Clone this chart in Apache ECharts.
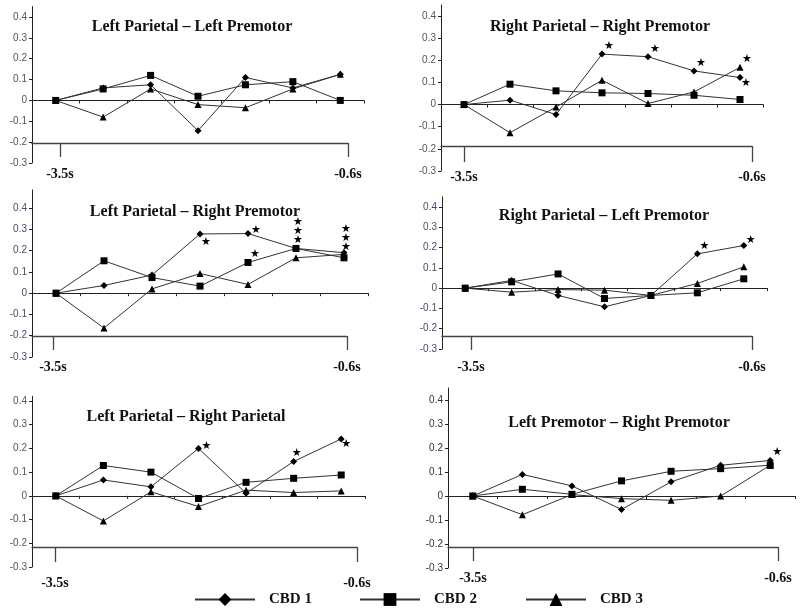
<!DOCTYPE html>
<html><head><meta charset="utf-8">
<script src="https://cdn.jsdelivr.net/npm/echarts@6/dist/echarts.min.js"></script>
<style>html,body{margin:0;padding:0;background:#fff}#c{width:800px;height:610px}</style>
</head><body><div id="c"></div>
<script>
// ---------------- DATA ----------------
const categories = ['t1','t2','t3','t4','t5','t6','t7'];
const seriesNames = ['CBD 1','CBD 2','CBD 3'];
const yTickValues = [-0.3,-0.2,-0.1,0,0.1,0.2,0.3,0.4];
const timeTickValues = [-3.5,-0.6];
const panelTitles = [
  'Left Parietal \u2013 Left Premotor',
  'Right Parietal \u2013 Right Premotor',
  'Left Parietal \u2013 Right Premotor',
  'Right Parietal \u2013 Left Premotor',
  'Left Parietal \u2013 Right Parietal',
  'Left Premotor \u2013 Right Premotor'
];

const lpLpmCbd1 = [0, 0.06, 0.075, -0.145, 0.11, 0.06, 0.125];
const lpLpmCbd2 = [0, 0.055, 0.12, 0.02, 0.075, 0.09, 0];
const lpLpmCbd3 = [0, -0.08, 0.055, -0.02, -0.035, 0.055, 0.125];

const rpRpmCbd1 = [0, 0.02, -0.045, 0.228, 0.216, 0.152, 0.122];
const rpRpmCbd2 = [0, 0.092, 0.062, 0.053, 0.05, 0.042, 0.023];
const rpRpmCbd3 = [0, -0.127, -0.011, 0.11, 0.005, 0.057, 0.168];

const lpRpmCbd1 = [0, 0.036, 0.085, 0.278, 0.28, 0.21, 0.19];
const lpRpmCbd2 = [0, 0.152, 0.073, 0.033, 0.144, 0.21, 0.166];
const lpRpmCbd3 = [0, -0.164, 0.02, 0.092, 0.041, 0.166, 0.182];

const rpLpmCbd1 = [0, 0.038, -0.036, -0.092, -0.036, 0.169, 0.21];
const rpLpmCbd2 = [0, 0.031, 0.07, -0.051, -0.036, -0.023, 0.046];
const rpLpmCbd3 = [0, -0.02, -0.007, -0.01, -0.036, 0.023, 0.105];

const lpRpCbd1 = [0, 0.067, 0.038, 0.2, 0.011, 0.145, 0.24];
const lpRpCbd2 = [0, 0.128, 0.1, -0.011, 0.057, 0.074, 0.088];
const lpRpCbd3 = [0, -0.106, 0.017, -0.045, 0.024, 0.014, 0.021];

const lpmRpmCbd1 = [0, 0.09, 0.042, -0.056, 0.059, 0.128, 0.148];
const lpmRpmCbd2 = [0, 0.028, 0.007, 0.063, 0.103, 0.114, 0.128];
const lpmRpmCbd3 = [0, -0.078, 0.006, -0.011, -0.018, 0, 0.128];

// significance stars (number of stars at each point)
const noStars         = [0,0,0,0,0,0,0];
const rpRpmCbd1Stars  = [0,0,0,1,1,1,1];
const rpRpmCbd3Stars  = [0,0,0,0,0,0,1];
const lpRpmCbd1Stars  = [0,0,0,1,1,3,3];
const lpRpmCbd2Stars  = [0,0,0,0,1,0,0];
const rpLpmCbd1Stars  = [0,0,0,0,0,1,1];
const lpRpCbd1Stars   = [0,0,0,1,0,1,1];
const lpmRpmCbd1Stars = [0,0,0,0,0,0,1];

const panelValues = [
  [lpLpmCbd1, lpLpmCbd2, lpLpmCbd3],
  [rpRpmCbd1, rpRpmCbd2, rpRpmCbd3],
  [lpRpmCbd1, lpRpmCbd2, lpRpmCbd3],
  [rpLpmCbd1, rpLpmCbd2, rpLpmCbd3],
  [lpRpCbd1, lpRpCbd2, lpRpCbd3],
  [lpmRpmCbd1, lpmRpmCbd2, lpmRpmCbd3]
];
const panelStars = [
  [noStars, noStars, noStars],
  [rpRpmCbd1Stars, noStars, rpRpmCbd3Stars],
  [lpRpmCbd1Stars, lpRpmCbd2Stars, noStars],
  [rpLpmCbd1Stars, noStars, noStars],
  [lpRpCbd1Stars, noStars, noStars],
  [lpmRpmCbd1Stars, noStars, noStars]
];

// ---------------- LAYOUT / STYLE ----------------
const layouts = [
  {axisX:32,  axisEnd:364, y04:17,  ym03:163, yMax:0.45,  bY:143, tL:60,  tR:348, tLen:14, lblY:174, tx:192, ty:27,  lc:'#555'},
  {axisX:441, axisEnd:763, y04:16,  ym03:171, yMax:0.45,  bY:146, tL:464, tR:752, tLen:16, lblY:177, tx:600, ty:27,  lc:'#555'},
  {axisX:32,  axisEnd:368, y04:208, ym03:357, yMax:0.485, bY:336, tL:53,  tR:347, tLen:14, lblY:367, tx:195, ty:212, lc:'#5a3f6e'},
  {axisX:442, axisEnd:767, y04:207, ym03:349, yMax:0.45,  bY:336, tL:471, tR:752, tLen:14, lblY:367, tx:604, ty:216, lc:'#5a3f6e'},
  {axisX:32,  axisEnd:365, y04:401, ym03:567, yMax:0.42,  bY:547, tL:55,  tR:357, tLen:15, lblY:583, tx:186, ty:417, lc:'#555'},
  {axisX:448, axisEnd:795, y04:400, ym03:568, yMax:0.45,  bY:547, tL:473, tR:778, tLen:14, lblY:578, tx:619, ty:423, lc:'#333'}
];
const symbols = ['diamond','rect','triangle'];
const symbolSizes = [7,7,7];
const starOffsetDefault = [7,-8];
const starOffsets = {
  '1-0-6':[6,6], '2-0-3':[6,8], '2-0-4':[8,-3], '2-0-5':[2,-17], '2-0-6':[2,-15],
  '3-0-6':[7,-5], '4-0-3':[8,-2], '4-0-5':[3,-8], '4-0-6':[5,5]
};
const serif = '"Liberation Serif","Times New Roman",serif';

const grid = [], xAxis = [], yAxis = [], series = [], graphic = [];
layouts.forEach((L, i) => {
  const ppu = (L.ym03 - L.y04) / 0.7;
  const top = L.y04 - (L.yMax - 0.4) * ppu;
  grid.push({left:L.axisX, top:top, width:L.axisEnd - L.axisX, height:L.ym03 - top});
  grid.push({left:L.axisX, top:L.bY - 10, width:L.tR - L.axisX, height:10});
  xAxis.push({
    type:'category', gridIndex:2*i, data:categories, boundaryGap:true,
    axisLine:{show:true, onZero:true, lineStyle:{color:'#222', width:1}},
    axisTick:{show:true, length:3, lineStyle:{color:'#222'}},
    axisLabel:{show:false}, splitLine:{show:false}
  });
  const bMin = -0.6 - 2.9 * (L.tR - L.axisX) / (L.tR - L.tL);
  xAxis.push({
    type:'value', gridIndex:2*i+1, min:bMin, max:-0.6, position:'bottom',
    axisLine:{show:true, onZero:false, lineStyle:{color:'#444', width:1.3}},
    axisTick:{show:true, customValues:timeTickValues, length:L.tLen, lineStyle:{color:'#444', width:1.3}},
    axisLabel:{show:true, customValues:timeTickValues, formatter:v => v + 's',
      fontFamily:serif, fontWeight:'bold', fontSize:14, color:'#111', margin:L.lblY - 7 - L.bY},
    splitLine:{show:false}
  });
  yAxis.push({
    type:'value', gridIndex:2*i, min:-0.3, max:L.yMax,
    axisLine:{show:true, lineStyle:{color:'#222', width:1}},
    axisTick:{show:true, customValues:yTickValues, length:3, lineStyle:{color:'#222'}},
    axisLabel:{show:true, customValues:yTickValues, fontSize:10, fontFamily:'"Liberation Sans",Arial,sans-serif',
      color:L.lc, margin:5, formatter:v => String(Math.round(v*10)/10)},
    splitLine:{show:false}
  });
  yAxis.push({type:'value', gridIndex:2*i+1, show:false, min:0, max:1});

  panelValues[i].forEach((vals, k) => {
    const stars = panelStars[i][k];
    series.push({
      type:'line', name:seriesNames[k], xAxisIndex:2*i, yAxisIndex:2*i,
      symbol:symbols[k], symbolSize:symbolSizes[k], showAllSymbol:true,
      lineStyle:{color:'#333', width:1}, itemStyle:{color:'#000'},
      emphasis:{disabled:true}, animation:false,
      data: vals.map((v, j) => {
        if (!stars[j]) return v;
        return {value:v, label:{show:true, position:'inside',
          offset: starOffsets[i+'-'+k+'-'+j] || starOffsetDefault,
          formatter: Array(stars[j]).fill('\u2605').join('\n'),
          fontFamily:'"DejaVu Sans",sans-serif', fontSize:11, lineHeight:9, color:'#000'}};
      })
    });
  });
  graphic.push({type:'text', x:L.tx, y:L.ty, style:{text:panelTitles[i],
    font:'bold 16px ' + serif, fill:'#111', textAlign:'center', align:'center',
    textVerticalAlign:'middle', verticalAlign:'middle'}});
});

const legendLefts = [189, 354, 520];
const legend = seriesNames.map((n, k) => ({
  data:[n], left:legendLefts[k], top:587, itemWidth:60, itemHeight:16, selectedMode:false,
  textStyle:{fontFamily:serif, fontWeight:'bold', fontSize:15, color:'#111', padding:[0,0,0,9]}
}));

const chart = echarts.init(document.getElementById('c'), null, {renderer:'canvas'});
chart.setOption({animation:false, backgroundColor:'#fff', grid, xAxis, yAxis, series, legend, graphic});
</script></body></html>
